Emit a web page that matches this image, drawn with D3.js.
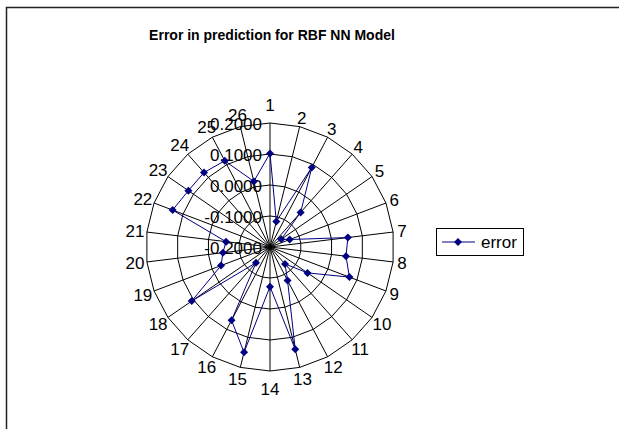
<!DOCTYPE html>
<html>
<head>
<meta charset="utf-8">
<script src="https://cdn.jsdelivr.net/npm/d3@7"></script>
<style>
  body { margin: 0; background: #fff; }
  svg { display: block; font-family: "Liberation Sans", Arial, sans-serif; }
</style>
</head>
<body>
<div id="chart"></div>
<script>
const width = 619;
const height = 429;

// categories 1..26 around the radar
const categories = d3.range(1, 27).map(String);

// error values
const errors = [
  0.102, -0.115, 0.090, -0.051, -0.156, -0.132, 0.053, 0.047, 0.074, -0.053,
  -0.127, -0.078, 0.140, -0.072, 0.150, 0.067, -0.132, 0.107, -0.031, -0.047,
  -0.057, 0.136, 0.120, 0.121, 0.114, 0.018
];

const ticks = [-0.2, -0.1, 0.0, 0.1, 0.2];
const tickLabels = ['-0.2000', '-0.1000', '0.0000', '0.1000', '0.2000'];

const seriesName = 'error';
const title = 'Error in prediction for RBF NN Model';

const cx = 270;
const cy = 247;
const R = 124;
const navy = '#000080';

const svg = d3.select('#chart').append('svg')
  .attr('width', width)
  .attr('height', height);

// chart area frame (runs off right / bottom)
svg.append('rect')
  .attr('x', 6.5).attr('y', 7.5)
  .attr('width', 640).attr('height', 460)
  .attr('fill', '#fff')
  .attr('stroke', '#222')
  .attr('stroke-width', 1.5);

svg.append('text')
  .attr('x', 272).attr('y', 40)
  .attr('text-anchor', 'middle')
  .attr('font-weight', 'bold')
  .attr('font-size', 14)
  .text(title);

const r = d3.scaleLinear().domain([-0.2, 0.2]).range([0, R]);
const angle = d3.scaleLinear().domain([0, categories.length]).range([0, 2 * Math.PI]);

const g = svg.append('g').attr('transform', `translate(${cx},${cy})`);

const px = (i, v) => [r(v) * Math.sin(angle(i)), -r(v) * Math.cos(angle(i))];

// grid polygons
ticks.slice(1).forEach(t => {
  g.append('path')
    .attr('d', d3.line().curve(d3.curveLinearClosed)(categories.map((c, i) => px(i, t))))
    .attr('fill', 'none')
    .attr('stroke', '#000')
    .attr('stroke-width', 1);
});

// spokes
g.selectAll('.spoke')
  .data(categories)
  .join('line')
  .attr('class', 'spoke')
  .attr('x1', 0).attr('y1', 0)
  .attr('x2', (c, i) => px(i, 0.2)[0])
  .attr('y2', (c, i) => px(i, 0.2)[1])
  .attr('stroke', '#000')
  .attr('stroke-width', 1);

// category labels: straight up/down ones sit further out
g.selectAll('.cat')
  .data(categories)
  .join('text')
  .attr('class', 'cat')
  .attr('font-size', 17)
  .attr('text-anchor', 'middle')
  .attr('dy', '0.35em')
  .each(function (c, i) {
    const a = angle(i);
    const d = Math.abs(Math.sin(a)) < 0.05 ? R + 18 : R + 9 + (c.length - 1) * 3;
    d3.select(this)
      .attr('x', d * Math.sin(a))
      .attr('y', -d * Math.cos(a));
  })
  .text(c => c);

// value axis labels
g.selectAll('.tick')
  .data(ticks)
  .join('text')
  .attr('class', 'tick')
  .attr('font-size', 17)
  .attr('text-anchor', 'end')
  .attr('x', -8)
  .attr('y', d => -r(d) + 1)
  .attr('dy', '0.35em')
  .text((d, i) => tickLabels[i]);

// series line
g.append('path')
  .attr('d', d3.line().curve(d3.curveLinearClosed)(errors.map((v, i) => px(i, v))))
  .attr('fill', 'none')
  .attr('stroke', navy)
  .attr('stroke-width', 1);

const diamond = 'M0,-4L4,0L0,4L-4,0Z';

g.selectAll('.dot')
  .data(errors)
  .join('path')
  .attr('class', 'dot')
  .attr('d', diamond)
  .attr('transform', (v, i) => `translate(${px(i, v)})`)
  .attr('fill', navy);

// legend
const legend = svg.append('g').attr('transform', 'translate(436,228)');
legend.append('rect')
  .attr('x', 0.5).attr('y', 0.5)
  .attr('width', 87).attr('height', 27)
  .attr('fill', '#fff')
  .attr('stroke', '#000');
legend.append('line')
  .attr('x1', 6).attr('x2', 39)
  .attr('y1', 14).attr('y2', 14)
  .attr('stroke', navy);
legend.append('path')
  .attr('d', diamond)
  .attr('transform', 'translate(22,14)')
  .attr('fill', navy);
legend.append('text')
  .attr('x', 45).attr('y', 14)
  .attr('dy', '0.35em')
  .attr('font-size', 17)
  .text(seriesName);
</script>
</body>
</html>
